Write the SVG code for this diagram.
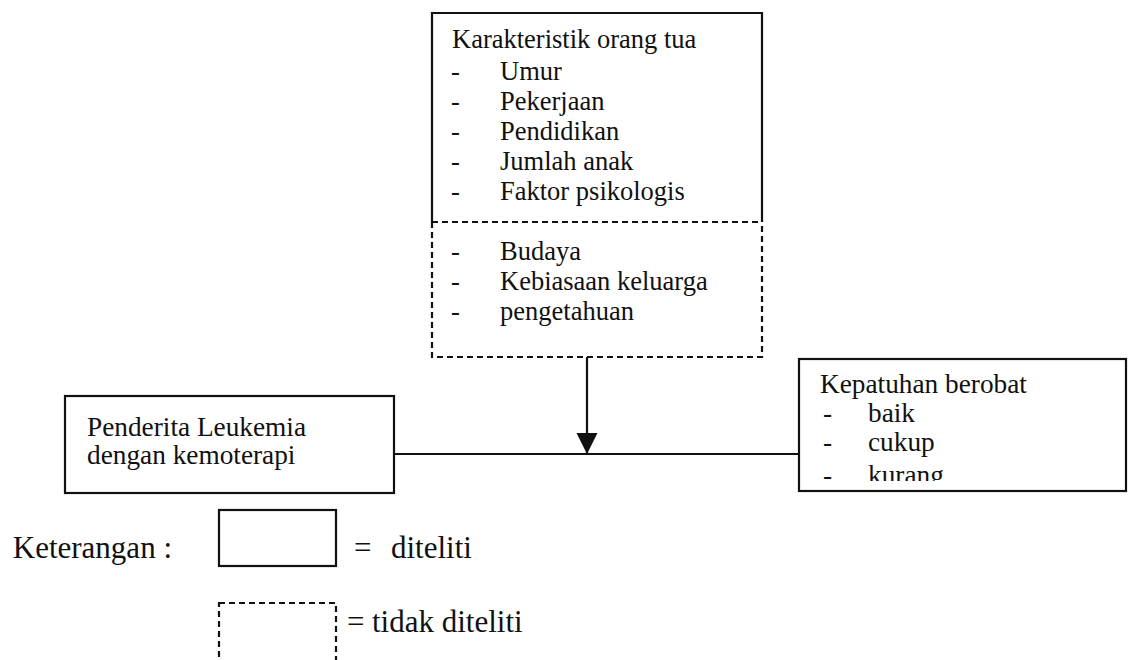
<svg xmlns="http://www.w3.org/2000/svg" width="1129" height="660" viewBox="0 0 1129 660">
  <defs>
    <style>
      .t { font-family: "Liberation Serif", "Times New Roman", serif; font-size: 26.5px; fill: #111; }
      .t2 { font-family: "Liberation Serif", "Times New Roman", serif; font-size: 27.3px; fill: #111; }
      .lg { font-family: "Liberation Serif", "Times New Roman", serif; font-size: 31px; fill: #111; }
      .solid { fill: none; stroke: #111; stroke-width: 2.2; }
      .dash { fill: none; stroke: #111; stroke-width: 2.2; stroke-dasharray: 6 4; }
      .conn { fill: none; stroke: #111; stroke-width: 2.2; }
    </style>
    <marker id="arrow" viewBox="0 0 10 10" refX="10" refY="5" markerUnits="userSpaceOnUse" markerWidth="21" markerHeight="22" orient="auto">
      <path d="M0,0 L10,5 L0,10 z" fill="#111"/>
    </marker>
    <clipPath id="clipK">
      <rect x="790" y="350" width="339" height="131"/>
    </clipPath>
  </defs>
  <rect width="1129" height="660" fill="#fff"/>

  <g id="node-karakteristik">
    <path class="solid" d="M432,222 L432,13 L762,13 L762,222"/>
    <line class="dash" x1="432" y1="222" x2="762" y2="222"/>
    <path class="dash" d="M432,222 L432,357 L762,357 L762,222"/>
    <text class="t" x="452" y="48">Karakteristik orang tua</text>
    <text class="t" x="451" y="80">-</text><text class="t" x="500" y="80">Umur</text>
    <text class="t" x="451" y="110">-</text><text class="t" x="500" y="110">Pekerjaan</text>
    <text class="t" x="451" y="140">-</text><text class="t" x="500" y="140">Pendidikan</text>
    <text class="t" x="451" y="170">-</text><text class="t" x="500" y="170">Jumlah anak</text>
    <text class="t" x="451" y="200">-</text><text class="t" x="500" y="200">Faktor psikologis</text>
    <text class="t" x="451" y="260">-</text><text class="t" x="500" y="260">Budaya</text>
    <text class="t" x="451" y="290">-</text><text class="t" x="500" y="290">Kebiasaan keluarga</text>
    <text class="t" x="451" y="320">-</text><text class="t" x="500" y="320">pengetahuan</text>
  </g>

  <g id="node-penderita">
    <rect class="solid" x="65" y="396" width="329" height="97"/>
    <text class="t2" x="87" y="436">Penderita Leukemia</text>
    <text class="t2" x="87" y="464">dengan kemoterapi</text>
  </g>

  <g id="node-kepatuhan">
    <rect class="solid" x="799" y="359" width="327" height="132"/>
    <g clip-path="url(#clipK)">
      <text class="t2" x="820" y="393">Kepatuhan berobat</text>
      <text class="t2" x="823" y="422">-</text><text class="t2" x="868" y="422">baik</text>
      <text class="t2" x="823" y="451">-</text><text class="t2" x="868" y="451">cukup</text>
      <text class="t2" x="823" y="484">-</text><text class="t2" x="868" y="484">kurang</text>
    </g>
  </g>

  <g id="connectors">
    <line class="conn" x1="394" y1="454" x2="799" y2="454"/>
    <line class="conn" x1="587" y1="357" x2="587" y2="454" marker-end="url(#arrow)"/>
  </g>

  <g id="legend">
    <text class="lg" x="172" y="558" text-anchor="end">Keterangan :</text>
    <rect class="solid" x="219" y="510" width="117" height="56"/>
    <text class="lg" x="354" y="558">=</text>
    <text class="lg" x="391" y="558">diteliti</text>
    <rect class="dash" x="219" y="603" width="117" height="80"/>
    <text class="lg" x="347" y="632">=</text>
    <text class="lg" x="372" y="632">tidak diteliti</text>
  </g>
</svg>
